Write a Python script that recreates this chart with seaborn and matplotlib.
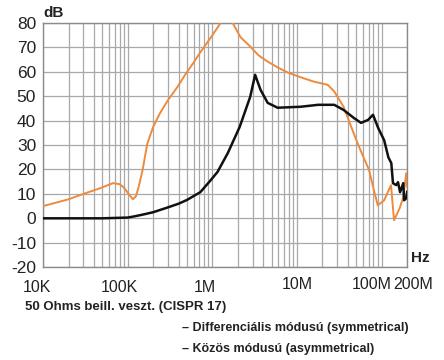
import numpy as np
import pandas as pd
import seaborn as sns
import matplotlib.pyplot as plt
from matplotlib.ticker import LogLocator, NullFormatter
from matplotlib.transforms import ScaledTranslation


# orange curve, Hz / dB
orange_hz = [1e4, 2e4, 3e4, 4.7e4, 6.7e4, 8e4, 8.9e4, 1e5, 1.15e5, 1.25e5,
             1.35e5, 1.5e5, 1.7e5, 2e5, 2.4e5, 3e5, 3.9e5, 4.8e5, 6e5, 7.2e5,
             8.7e5, 1.0e6, 1.25e6, 1.47e6, 1.74e6, 2.15e6, 2.8e6, 3.5e6, 4.5e6, 6e6,
             7.8e6, 1.1e7, 1.58e7, 2.3e7, 2.75e7, 3.1e7, 3.55e7, 4e7, 4.65e7, 5.3e7,
             6.1e7, 7.1e7, 8.1e7, 9e7, 1.07e8, 1.29e8, 1.4e8, 1.63e8, 1.8e8, 1.95e8,
             2e8]
orange_db = [5.0, 7.8, 10.0, 12.3, 14.4, 14.0, 12.8, 10.5, 7.8, 9.0,
             13.0, 19.8, 30.5, 37.5, 43.0, 48.5, 54.0, 59.0, 63.8, 68.0,
             72.0, 75.0, 80.0, 88.0, 80.0, 74.2, 70.4, 66.8, 64.2, 61.7,
             59.7, 57.8, 56.0, 54.7, 52.0, 49.0, 45.7, 41.0, 35.0, 30.0,
             25.0, 19.8, 11.5, 5.3, 7.4, 13.6, -0.8, 4.1, 8.6, 18.5,
             12.8]

# black curve
black_hz = [1e4, 5e4, 1e5, 1.2e5, 1.5e5, 2e5, 3e5, 4e5, 5e5, 7.2e5,
            9.5e5, 1.15e6, 1.52e6, 2.1e6, 2.8e6, 3.2e6, 3.7e6, 4.5e6, 5.9e6, 1.1e7,
            1.78e7, 2.75e7, 3.55e7, 4.7e7, 5.7e7, 6.9e7, 7.9e7, 9.1e7, 1.07e8, 1.2e8,
            1.3e8, 1.36e8, 1.48e8, 1.56e8, 1.65e8, 1.8e8, 1.84e8, 1.95e8, 2e8]
black_db = [0.0, 0.0, 0.3, 0.8, 1.5, 2.5, 4.5, 6.0, 7.5, 10.7,
            15.5, 19.0, 26.7, 37.4, 49.8, 58.8, 52.7, 47.3, 45.3, 45.7,
            46.5, 46.5, 44.4, 41.1, 39.1, 40.3, 42.4, 37.0, 32.0, 25.0,
            22.6, 14.4, 13.6, 14.8, 10.7, 14.4, 7.4, 8.2, 11.0]

x_ticks = [1e4, 1e5, 1e6, 1e7, 1e8, 2e8]
x_labels = ["10K", "100K", "1M", "10M", "100M", "200M"]
y_ticks = [-20, -10, 0, 10, 20, 30, 40, 50, 60, 70, 80]

sns.set_style("white")
plt.rcParams['font.family'] = ['Liberation Sans', 'DejaVu Sans']

fig = plt.figure(figsize=(4.44, 3.6), dpi=100)
ax = fig.add_axes([0.097, 0.258, 0.82, 0.678])

df_o = pd.DataFrame({"hz": orange_hz, "db": orange_db})
df_b = pd.DataFrame({"hz": black_hz, "db": black_db})

sns.lineplot(data=df_o, x="hz", y="db", ax=ax, color="#ee8a3c", lw=1.4, sort=False, zorder=3)
sns.lineplot(data=df_b, x="hz", y="db", ax=ax, color="#111111", lw=1.8, sort=False, zorder=4)

ax.set_xscale("log")
ax.set_xlim(1e4, 2e8)
ax.set_ylim(-20, 80)
ax.set_yticks(y_ticks)
ax.set_yticklabels([str(v) for v in y_ticks], fontsize=12.5)
ax.set_xticks(x_ticks)
ax.set_xticklabels(x_labels, fontsize=11.5)
ax.xaxis.set_minor_locator(LogLocator(base=10, subs=np.arange(2, 10), numticks=20))
ax.xaxis.set_minor_formatter(NullFormatter())

ax.grid(True, which="both", axis="x", color="#a8a8a8", lw=0.9)
ax.grid(True, which="major", axis="y", color="#a8a8a8", lw=0.9)
for s in ax.spines.values():
    s.set_color("#8a8a8a")
    s.set_linewidth(1.0)
ax.tick_params(axis="y", which="major", length=3, color="#8a8a8a", pad=2, labelcolor="#222222")
ax.tick_params(axis="x", which="major", length=3, color="#8a8a8a", pad=6, labelcolor="#222222")
ax.tick_params(axis="x", which="minor", length=3, color="#8a8a8a")
ax.set_xlabel("")
ax.set_ylabel("")

# labels in the original sit a bit off their grid lines
shifts = [(-6, 0), (-8, 0), (-7, 0), (0, 3), (-10, 3), (6, 3)]
for lab, (dx, dy) in zip(ax.get_xticklabels(), shifts):
    lab.set_transform(lab.get_transform() + ScaledTranslation(dx / 100, dy / 100, fig.dpi_scale_trans))

fig.text(0.097, 0.945, "dB", fontsize=11, fontweight="bold", ha="left", va="bottom", color="#222222")
fig.text(0.925, 0.265, "Hz", fontsize=11, fontweight="bold", ha="left", va="bottom", color="#222222")

fig.text(0.056, 0.148, "50 Ohms beill. veszt. (CISPR 17)", fontsize=9.5, fontweight="bold", ha="left", va="center", color="#222222")
fig.text(0.41, 0.088, "– Differenciális módusú (symmetrical)", fontsize=9, fontweight="bold", ha="left", va="center", color="#222222")
fig.text(0.41, 0.03, "– Közös módusú (asymmetrical)", fontsize=9, fontweight="bold", ha="left", va="center", color="#222222")

fig.savefig("out.png", dpi=100, facecolor="white")
